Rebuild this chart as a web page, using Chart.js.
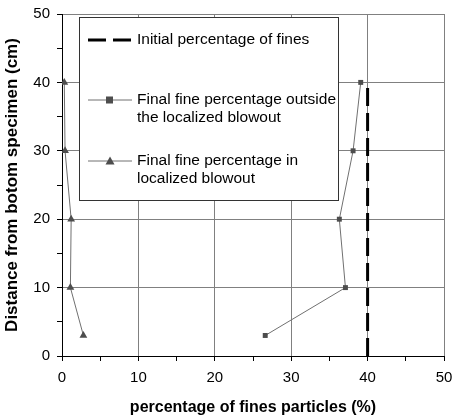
<!DOCTYPE html>
<html>
<head>
<meta charset="utf-8">
<script src="https://cdn.jsdelivr.net/npm/chart.js@4.4.0/dist/chart.umd.min.js"></script>
<style>
  html, body { margin: 0; padding: 0; background: #fff; }
  #wrap { width: 454px; height: 419px; }
</style>
</head>
<body>
<div id="wrap"><canvas id="grafico"></canvas></div>
<script>
// datos
const alturas = [3, 10, 20, 30, 40];               // cm desde el fondo
const finosFuera = [26.6, 37.1, 36.3, 38.1, 39.1]; // fuera del blowout
const finosDentro = [2.8, 1.1, 1.2, 0.4, 0.3];     // dentro del blowout
const inicialX = [40, 40];
const inicialY = [0, 40];

const etiquetas = [
    ["Initial percentage of fines"],
    ["Final fine percentage outside", "the localized blowout"],
    ["Final fine percentage in", "localized blowout"]
];
const tituloX = "percentage of fines particles (%)";
const tituloY = "Distance from botom specimen (cm)";

const fuente = "'Liberation Sans', Arial, sans-serif";

function puntos(xs, ys) {
    return xs.map((x, i) => ({ x: x, y: ys[i] }));
}

// leyenda dibujada a mano (texto en dos lineas, dentro del area)
const leyendaPlugin = {
    id: 'leyenda',
    afterDraw(chart) {
        const ctx = chart.ctx;
        const ds = chart.data.datasets;
        ctx.save();
        ctx.fillStyle = '#fff';
        ctx.fillRect(79.5, 17.5, 259, 183);
        ctx.strokeStyle = '#333';
        ctx.lineWidth = 1;
        ctx.strokeRect(79.5, 17.5, 259, 183);

        const filas = [40, 100, 161];
        filas.forEach((y, i) => {
            const d = ds[i];
            ctx.strokeStyle = d.borderColor;
            ctx.lineWidth = d.borderWidth;
            ctx.setLineDash(d.borderDash || []);
            ctx.beginPath();
            ctx.moveTo(88, y);
            ctx.lineTo(132, y);
            ctx.stroke();
            ctx.setLineDash([]);
            if (d.pointStyle === 'rect') {
                ctx.fillStyle = d.pointBackgroundColor;
                ctx.fillRect(106, y - 3.5, 7, 7);
            } else if (d.pointStyle === 'triangle') {
                ctx.fillStyle = d.pointBackgroundColor;
                ctx.beginPath();
                ctx.moveTo(110, y - 4.5);
                ctx.lineTo(114.5, y + 3.5);
                ctx.lineTo(105.5, y + 3.5);
                ctx.closePath();
                ctx.fill();
            }
            ctx.fillStyle = '#000';
            ctx.font = "15.5px " + fuente;
            ctx.textBaseline = 'middle';
            etiquetas[i].forEach((t, j) => ctx.fillText(t, 137, y + j * 17.5));
        });
        ctx.restore();
    }
};

const ejeComun = {
    type: 'linear',
    min: 0,
    max: 50,
    border: { color: '#000', width: 1 },
    grid: {
        color: c => (c.tick && c.tick.value % 10 === 0) ? '#808080' : 'rgba(0,0,0,0)',
        tickColor: '#000',
        tickLength: 5,
        lineWidth: 1
    },
    ticks: {
        stepSize: 5,
        autoSkip: false,
        maxRotation: 0,
        color: '#000',
        font: { family: fuente, size: 15 },
        callback: v => v % 10 === 0 ? v : ''
    }
};

const ctx = document.getElementById('grafico').getContext('2d');
new Chart(ctx, {
    type: 'scatter',
    data: {
        datasets: [
            {
                label: etiquetas[0].join(' '),
                data: puntos(inicialX, inicialY),
                showLine: true,
                borderColor: '#000',
                borderWidth: 3,
                borderDash: [18, 7],
                pointRadius: 0,
                order: 3
            },
            {
                label: etiquetas[1].join(' '),
                data: puntos(finosFuera, alturas),
                showLine: true,
                borderColor: '#707070',
                borderWidth: 1,
                pointStyle: 'rect',
                pointRadius: 3.5,
                pointBackgroundColor: '#4d4d4d',
                pointBorderColor: '#4d4d4d',
                pointBorderWidth: 0,
                order: 1
            },
            {
                label: etiquetas[2].join(' '),
                data: puntos(finosDentro, alturas),
                showLine: true,
                borderColor: '#707070',
                borderWidth: 1,
                pointStyle: 'triangle',
                pointRadius: 4.5,
                pointBackgroundColor: '#4d4d4d',
                pointBorderColor: '#4d4d4d',
                pointBorderWidth: 0,
                order: 2
            }
        ]
    },
    options: {
        responsive: true,
        maintainAspectRatio: false,
        animation: false,
        layout: { padding: { top: 14, right: 10, left: 0, bottom: 0 } },
        plugins: {
            legend: { display: false },
            tooltip: { enabled: false }
        },
        scales: {
            x: Object.assign({}, ejeComun, {
                position: 'bottom',
                ticks: Object.assign({}, ejeComun.ticks, { padding: 8 }),
                title: {
                    display: true,
                    text: tituloX,
                    color: '#000',
                    font: { family: fuente, size: 16, weight: 'bold' },
                    padding: { top: 0, bottom: 2 }
                },
                afterFit: s => { s.height = 63; s.paddingRight = 0; s.paddingLeft = 0; }
            }),
            y: Object.assign({}, ejeComun, {
                position: 'left',
                ticks: Object.assign({}, ejeComun.ticks, { padding: 7 }),
                title: {
                    display: true,
                    text: tituloY,
                    color: '#000',
                    font: { family: fuente, size: 17, weight: 'bold' },
                    padding: { top: 2, bottom: 0 }
                },
                afterFit: s => { s.width = 62; s.paddingTop = 0; s.paddingBottom = 0; }
            })
        }
    },
    plugins: [leyendaPlugin]
});
</script>
</body>
</html>
